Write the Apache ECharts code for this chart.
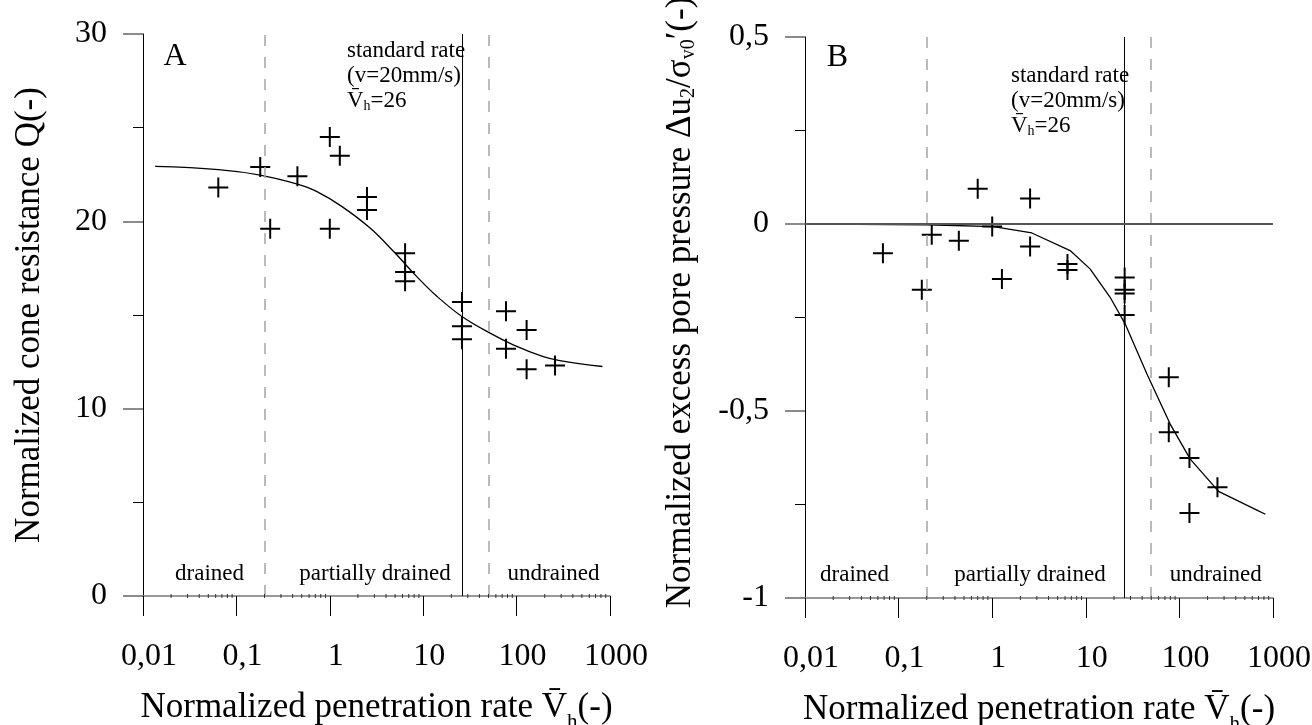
<!DOCTYPE html>
<html>
<head>
<meta charset="utf-8">
<script src="https://cdn.jsdelivr.net/npm/echarts@6/dist/echarts.min.js"></script>
<style>
html,body{margin:0;padding:0;background:#fff;}
#c{width:1312px;height:725px;}
</style>
</head>
<body>
<div id="c"></div>
<script>
// ---------- data ----------
const xTickValues = [0.01, 0.1, 1, 10, 100, 1000];
const xTickLabels = ['0,01', '0,1', '1', '10', '100', '1000'];

// Panel A: normalized cone resistance Q
const qRate  = [0.064, 0.18, 0.23, 0.45, 1.0, 1.28, 1.0, 2.5, 2.5, 6.4, 6.4, 6.4, 26, 26, 26, 77, 77, 128, 128, 258];
const qValue = [21.8, 22.9, 19.6, 22.4, 24.5, 23.5, 19.6, 21.3, 20.6, 18.3, 17.3, 16.8, 15.7, 14.4, 13.7, 15.2, 13.2, 14.2, 12.1, 12.3];
const qFitRate  = [0.0135, 0.064, 0.18, 0.44, 0.72, 1.34, 2.7, 4.8, 8.5, 14, 26, 52, 92, 193, 290, 830];
const qFitValue = [22.93, 22.76, 22.47, 22.0, 21.6, 20.8, 19.64, 18.4, 17.06, 16.0, 14.92, 14.03, 13.41, 12.78, 12.57, 12.25];

// Panel B: normalized excess pore pressure
const uRate  = [0.068, 0.177, 0.226, 0.44, 0.70, 1.0, 1.27, 2.54, 2.54, 6.37, 6.37, 26, 26, 26, 26, 77, 77, 128, 255, 128];
const uValue = [-0.078, -0.176, -0.029, -0.045, 0.094, -0.007, -0.147, 0.068, -0.06, -0.107, -0.123, -0.143, -0.176, -0.186, -0.243, -0.41, -0.557, -0.626, -0.704, -0.773];
const uFitRate  = [0.014, 0.2, 1.03, 2.65, 6.8, 11.1, 18.2, 26.3, 45, 79.7, 130, 262, 673, 830];
const uFitValue = [0, -0.002, -0.007, -0.024, -0.071, -0.12, -0.196, -0.267, -0.401, -0.535, -0.628, -0.715, -0.765, -0.776];

// drainage boundaries and standard rate
const boundaryRates = [0.2, 50];
const standardRate = 26;
const regionLabels = ['drained', 'partially drained', 'undrained'];

// ---------- helpers ----------
const F = '"Liberation Serif", "Times New Roman", serif';
const minorXTicks = [];
[0.01, 0.1, 1, 10, 100].forEach(d => { for (let k = 2; k <= 9; k++) minorXTicks.push(+(k * d).toPrecision(3)); });

function zip(a, b) { return a.map((v, i) => [v, b[i]]); }
function xLabel(v) {
  const i = xTickValues.findIndex(t => Math.abs(Math.log10(t) - Math.log10(v)) < 1e-6);
  return i >= 0 ? xTickLabels[i] : '';
}
const crossSymbol = 'path://M9,0H11V20H9Z M0,9H20V11H0Z';

const nameRich = {
  n: { fontFamily: F, fontSize: 35, color: '#000' },
  s: { fontFamily: F, fontSize: 21, color: '#000', verticalAlign: 'bottom', padding: [30, 0, 0, 0] }
};
const yNameRichB = {
  n: { fontFamily: F, fontSize: 35, color: '#000' },
  s: { fontFamily: F, fontSize: 20, color: '#000', verticalAlign: 'bottom', padding: [16, 0, 0, 0] }
};

function xAxisCfg(gi) {
  return {
    type: 'log', gridIndex: gi, logBase: 10, min: 0.01, max: 1000, splitNumber: 5,
    axisLine: { show: true, onZero: false, lineStyle: { color: '#777', width: 1.5 } },
    axisTick: { show: true, length: 20, lineStyle: { color: '#000', width: 1 } },
    minorTick: { show: false }, splitLine: { show: false },
    axisLabel: { margin: 45, fontFamily: F, fontSize: 32, color: '#000', padding: [0, 0, 0, 12], formatter: xLabel },
    name: '{n|Normalized penetration rate V\u0304}{s|h}{n|(-)}',
    nameLocation: 'middle', nameGap: 86,
    nameTextStyle: { rich: nameRich }
  };
}
function yAxisCfg(gi, min, max, interval, name, gap, rich, pad) {
  return {
    type: 'value', gridIndex: gi, min: min, max: max, interval: interval,
    axisLine: { show: true, onZero: false, lineStyle: { color: '#000', width: 1 } },
    axisTick: { show: true, length: 20, lineStyle: { color: '#666', width: 1.5 } },
    minorTick: { show: true, splitNumber: 2, length: 10, lineStyle: { color: '#000', width: 1 } },
    splitLine: { show: false }, minorSplitLine: { show: false },
    axisLabel: { margin: 36, fontFamily: F, fontSize: 32, color: '#000',
      formatter: v => String(+v.toFixed(3)).replace('.', ',') },
    name: name, nameLocation: 'middle', nameGap: gap,
    nameTextStyle: rich ? { rich: rich, padding: pad || 0 } : { fontFamily: F, fontSize: 35, color: '#000' }
  };
}
function minorTickSeries(gi, yBase) {
  return {
    type: 'custom', xAxisIndex: gi, yAxisIndex: gi, silent: true, z: 5, clip: false,
    data: minorXTicks.map(v => [v, yBase]),
    renderItem: function (params, api) {
      const p = api.coord([api.value(0), api.value(1)]);
      return { type: 'line', shape: { x1: p[0], y1: p[1] - 2, x2: p[0], y2: p[1] + 2 },
        style: { stroke: '#333', lineWidth: 1 } };
    }
  };
}
function vLines(extra) {
  const dash = { type: [11, 11], color: '#aaa', width: 1.6 };
  const d = boundaryRates.map(r => ({ xAxis: r, lineStyle: dash }));
  d.push({ xAxis: standardRate, lineStyle: { type: 'solid', color: '#000', width: 1 } });
  return { silent: true, symbol: ['none', 'none'], label: { show: false }, animation: false,
    data: d.concat(extra || []) };
}

const rich23 = {
  n: { fontFamily: F, fontSize: 23, lineHeight: 25, fill: '#000' },
  s: { fontFamily: F, fontSize: 14, lineHeight: 14, fill: '#000', verticalAlign: 'bottom', padding: [12, 0, 0, 0] }
};
const stdText = '{n|standard rate}\n{n|(v=20mm/s)}\n{n|V\u0304}{s|h}{n|=' + standardRate + '}';

function txt(x, y, text, size, align) {
  return { type: 'text', x: x, y: y, silent: true,
    style: { text: text, font: size + 'px ' + F, fill: '#000',
      align: align || 'center', verticalAlign: 'middle', textAlign: align || 'center', textVerticalAlign: 'middle' } };
}

const chart = echarts.init(document.getElementById('c'), null, { renderer: 'canvas' });
chart.setOption({
  animation: false,
  backgroundColor: '#fff',
  textStyle: { fontFamily: F },
  grid: [
    { left: 143, top: 34, width: 467, height: 562, outerBoundsMode: 'none', containLabel: false },
    { left: 805, top: 37, width: 468, height: 561, outerBoundsMode: 'none', containLabel: false }
  ],
  xAxis: [xAxisCfg(0), xAxisCfg(1)],
  yAxis: [
    yAxisCfg(0, 0, 30, 10, 'Normalized cone resistance Q(-)', 96, null),
    yAxisCfg(1, -1, 0.5, 0.5, '{n|Normalized excess pore pressure \u0394u}{s|2}{n|/\u03c3}{s|v0}{n|\u2032(-)}', 106, yNameRichB, [0, 0, 0, 30])
  ],
  series: [
    { type: 'line', xAxisIndex: 0, yAxisIndex: 0, data: zip(qFitRate, qFitValue), smooth: 0.4,
      showSymbol: false, lineStyle: { color: '#000', width: 1.3 }, z: 3, markLine: vLines() },
    { type: 'scatter', xAxisIndex: 0, yAxisIndex: 0, data: zip(qRate, qValue),
      symbol: crossSymbol, symbolSize: 20, itemStyle: { color: '#000', opacity: 1 }, z: 4 },
    minorTickSeries(0, 0),
    { type: 'line', xAxisIndex: 1, yAxisIndex: 1, data: zip(uFitRate, uFitValue), smooth: false,
      showSymbol: false, lineStyle: { color: '#000', width: 1.3 }, z: 3,
      markLine: vLines([{ yAxis: 0, lineStyle: { type: 'solid', color: '#555', width: 2 } }]) },
    { type: 'scatter', xAxisIndex: 1, yAxisIndex: 1, data: zip(uRate, uValue),
      symbol: crossSymbol, symbolSize: 20, itemStyle: { color: '#000', opacity: 1 }, z: 4 },
    minorTickSeries(1, -1)
  ],
  graphic: [
    txt(175, 57, 'A', 32),
    { type: 'text', x: 347, y: 38, silent: true,
      style: { text: stdText, rich: rich23, fill: '#000', align: 'left', verticalAlign: 'top', textAlign: 'left', textVerticalAlign: 'top' } },
    txt(209.5, 574, regionLabels[0], 23),
    txt(375, 574, regionLabels[1], 23),
    txt(553.5, 574, regionLabels[2], 23),
    txt(837.5, 57.5, 'B', 32),
    { type: 'text', x: 1011, y: 63, silent: true,
      style: { text: stdText, rich: rich23, fill: '#000', align: 'left', verticalAlign: 'top', textAlign: 'left', textVerticalAlign: 'top' } },
    txt(854.5, 574.5, regionLabels[0], 23),
    txt(1030, 574.5, regionLabels[1], 23),
    txt(1215.7, 574.5, regionLabels[2], 23)
  ]
});
</script>
</body>
</html>
